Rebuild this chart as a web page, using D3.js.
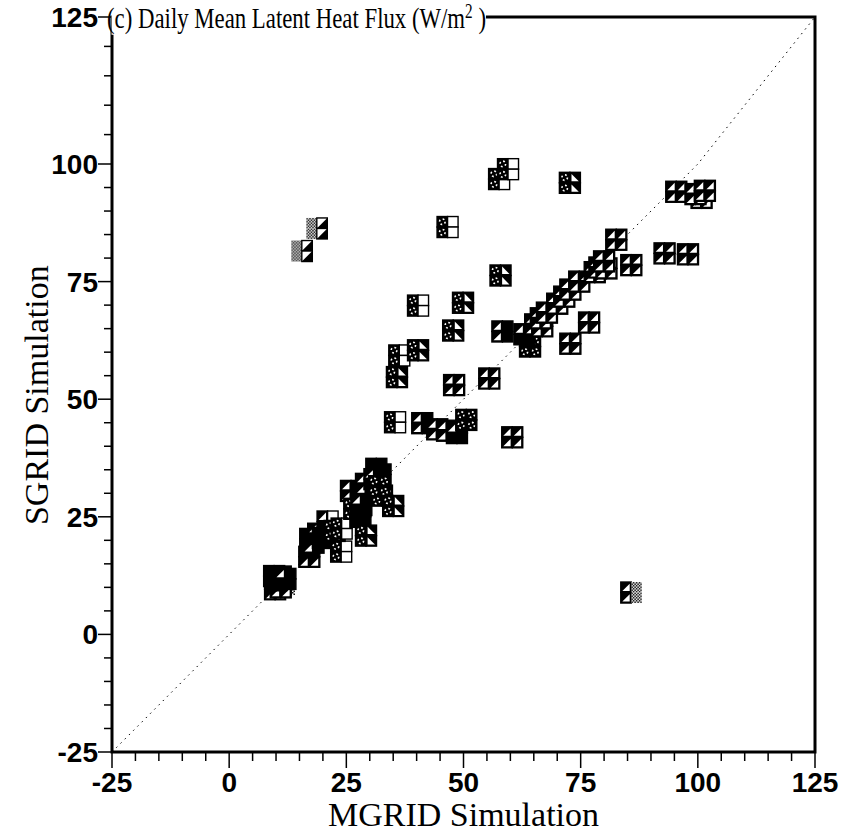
<!DOCTYPE html>
<html>
<head>
<meta charset="utf-8">
<script src="https://cdn.jsdelivr.net/npm/d3@7"></script>
<style>
  body { margin: 0; background: #fff; }
  svg { display: block; }
</style>
</head>
<body>
<svg id="chart" width="842" height="834"></svg>
<script>
(function() {

  // MGRID (x) vs SGRID (y) daily mean latent heat flux, W/m2
  var mgrid = [11.8, 9.8, 11.0, 10.0, 11.0, 9.6, 12.0,
               17.1, 17.3, 18.0, 19.0, 20.0, 21.0, 23.9, 22.5, 24.0,
               26.0, 26.7, 28.0, 28.2, 29.2, 29.2, 31.4, 32.3, 31.0,
               32.6, 32.0, 35.0,
               35.4, 41.2, 44.4, 46.5, 48.6, 50.6, 60.4, 48.0, 55.5,
               35.8, 36.3, 40.3, 40.3, 49.9, 47.8, 57.9, 58.3,
               64.2, 63.0, 65.3, 66.8, 66.5, 67.8, 70.0, 71.5, 72.8, 74.7,
               72.8, 76.8, 78.0, 79.0, 80.5, 80.0, 85.8, 82.6,
               92.9, 97.9, 95.4, 100.8, 99.5, 101.5,
               72.7, 57.6, 59.5, 46.6, 15.5, 18.7, 85.8];

  var sgrid = [10.6, 9.6, 10.0, 11.5, 12.3, 12.4, 11.8,
               16.5, 20.3, 19.5, 21.4, 20.5, 24.0, 17.6, 22.0, 22.5,
               30.5, 26.7, 25.0, 27.5, 21.0, 32.0, 35.2, 34.0, 33.0,
               29.5, 31.5, 27.3,
               45.1, 44.9, 43.6, 43.3, 42.8, 45.6, 41.9, 53.0, 54.4,
               54.7, 59.3, 60.4, 69.9, 70.5, 64.6, 76.3, 64.4,
               61.2, 63.8, 65.9, 65.5, 67.2, 68.4, 70.3, 71.8, 73.3, 75.0,
               61.8, 66.3, 77.0, 78.0, 77.8, 79.3, 78.5, 83.9,
               81.0, 80.8, 94.1, 92.8, 93.6, 94.3,
               96.0, 96.8, 98.9, 86.6, 81.5, 86.3, 8.9];

  // 2x2 glyph per point: top-left, top-right, bottom-left, bottom-right
  var glyphs = ['KSKS', 'KKUU', 'KKUU', 'KKKK', 'KKKK', 'KKKK', 'UKKK',
                'KKUU', 'KKKK', 'KKUK', 'UKKK', 'KKKK', 'UWKK', 'XWXW', 'XXXX', 'XWXW',
                'UKUK', 'XXXX', 'KKKK', 'UKKK', 'XNXN', 'UKUK', 'KKKK', 'KKKK', 'UKKK',
                'XXXX', 'XXXX', 'XNXN',
                'XWXW', 'UKUK', 'UUUU', 'UUUU', 'UKKK', 'XXXX', 'UUUU', 'UUUU', 'UUUU',
                'XNXN', 'XWXW', 'XNXN', 'XWXW', 'XNXN', 'XNXN', 'XNXN', 'UKUK',
                'XXXX', 'UKKK', 'UKUK', 'UUUU', 'UUUU', 'UUUU', 'UUUU', 'UUUU', 'UUUU', 'UUUU',
                'UUUU', 'UUUU', 'UUUU', 'UUUU', 'UUUU', 'UUUU', 'UUUU', 'UUUU',
                'UUUU', 'UUUU', 'UUUU', 'UUUU', 'UUUU', 'UUUU',
                'XNXN', 'XXXW', 'XWXW', 'XWXW', 'SLSL', 'SLSL', 'USUS'];

  var xTicks = [-25, 0, 25, 50, 75, 100, 125];
  var yTicks = [-25, 0, 25, 50, 75, 100, 125];
  var minorStep = 5;

  var left = 112, right = 815, top = 17, bottom = 752;
  var svg = d3.select('#chart');

  var x = d3.scaleLinear().domain([-25, 125]).range([left, right]);
  // the top interval of the printed axis is stretched
  var y = d3.scaleLinear().domain([-25, 100, 125]).range([bottom, 164, top]);

  var defs = svg.append('defs');
  var stip = defs.append('pattern')
    .attr('id', 'stip')
    .attr('patternUnits', 'userSpaceOnUse')
    .attr('width', 3).attr('height', 3);
  stip.append('rect').attr('width', 3).attr('height', 3).attr('fill', '#fff');
  stip.append('rect').attr('width', 1.5).attr('height', 1.5).attr('fill', '#000');
  stip.append('rect').attr('x', 1.5).attr('y', 1.5).attr('width', 1.5).attr('height', 1.5).attr('fill', '#000');

  // minor + major ticks
  var minorX = d3.range(-25, 125.1, minorStep);
  var minorY = d3.range(-25, 125.1, minorStep);

  svg.append('g').selectAll('line')
    .data(minorX)
    .enter().append('line')
    .attr('x1', function(d) { return x(d); })
    .attr('x2', function(d) { return x(d); })
    .attr('y1', bottom)
    .attr('y2', function(d) { return bottom + (xTicks.indexOf(d) >= 0 ? 16 : 9); })
    .attr('stroke', '#000')
    .attr('stroke-width', 1.5);

  svg.append('g').selectAll('line')
    .data(minorY)
    .enter().append('line')
    .attr('y1', function(d) { return y(d); })
    .attr('y2', function(d) { return y(d); })
    .attr('x1', left)
    .attr('x2', function(d) { return left - (yTicks.indexOf(d) >= 0 ? 14 : 8); })
    .attr('stroke', '#000')
    .attr('stroke-width', 1.5);

  svg.append('g').selectAll('text')
    .data(xTicks)
    .enter().append('text')
    .attr('x', function(d) { return x(d); })
    .attr('y', 792)
    .attr('text-anchor', 'middle')
    .style('font-family', '"Liberation Sans", Arial, sans-serif')
    .style('font-weight', 'bold')
    .style('font-size', '28px')
    .text(function(d) { return d; });

  svg.append('g').selectAll('text')
    .data(yTicks)
    .enter().append('text')
    .attr('x', 98)
    .attr('y', function(d) { return y(d) + 10; })
    .attr('text-anchor', 'end')
    .style('font-family', '"Liberation Sans", Arial, sans-serif')
    .style('font-weight', 'bold')
    .style('font-size', '28px')
    .text(function(d) { return d; });

  // 1:1 line
  svg.append('path')
    .attr('d', d3.line()
      .x(function(d) { return x(d); })
      .y(function(d) { return y(d); })([-25, 100, 125]))
    .attr('fill', 'none')
    .attr('stroke', '#000')
    .attr('stroke-width', 1)
    .attr('stroke-dasharray', '1.5 4.5');

  // glyphs
  var cell = 10.5;
  var pts = mgrid.map(function(v, i) {
    return { mx: v, sy: sgrid[i], code: glyphs[i] };
  });

  var g = svg.append('g').selectAll('g')
    .data(pts)
    .enter().append('g')
    .attr('transform', function(d) {
      return 'translate(' + (x(d.mx) - cell) + ',' + (y(d.sy) - cell) + ')';
    });

  g.each(function(d) {
    var gg = d3.select(this);
    for (var i = 0; i < 4; i++) {
      drawCell(gg, d.code[i], (i % 2) * cell, Math.floor(i / 2) * cell, cell);
    }
  });

  function drawCell(sel, c, cx, cy, s) {
    var p = 1.6;
    if (c === 'S') {
      sel.append('rect').attr('x', cx).attr('y', cy).attr('width', s).attr('height', s)
        .attr('fill', 'url(#stip)');
      return;
    }
    var bg = (c === 'W' || c === 'L') ? '#fff' : '#000';
    sel.append('rect').attr('x', cx).attr('y', cy).attr('width', s).attr('height', s)
      .attr('fill', bg).attr('stroke', '#000').attr('stroke-width', 1.4);
    if (c === 'X') {
      sel.append('circle').attr('cx', cx + s / 2).attr('cy', cy + s / 2).attr('r', 2.8)
        .attr('fill', 'none').attr('stroke', '#fff').attr('stroke-width', 1.6)
        .attr('stroke-dasharray', '1.8 2.6');
    } else if (c === 'U') {
      sel.append('path')
        .attr('d', 'M' + (cx + p) + ',' + (cy + s - p) + 'L' + (cx + s - p) + ',' + (cy + s - p) +
                   'L' + (cx + s - p) + ',' + (cy + p) + 'Z')
        .attr('fill', '#fff');
    } else if (c === 'N') {
      sel.append('path')
        .attr('d', 'M' + (cx + p) + ',' + (cy + p) + 'L' + (cx + p) + ',' + (cy + s - p) +
                   'L' + (cx + s - p) + ',' + (cy + s - p) + 'Z')
        .attr('fill', '#fff');
    } else if (c === 'L') {
      sel.append('path')
        .attr('d', 'M' + (cx + s) + ',' + cy + 'L' + (cx + s) + ',' + (cy + s) +
                   'L' + cx + ',' + (cy + s) + 'Z')
        .attr('fill', '#000');
    }
  }

  // frame
  svg.append('rect')
    .attr('x', left).attr('y', top)
    .attr('width', right - left).attr('height', bottom - top)
    .attr('fill', 'none')
    .attr('stroke', '#000')
    .attr('stroke-width', 3);

  // title sits on a white box over the top frame line
  var tg = svg.append('g').attr('transform', 'translate(107,28) scale(0.76,1)');
  var title = tg.append('text')
    .style('font-family', '"Liberation Serif", "Times New Roman", serif')
    .style('font-size', '30px');
  title.append('tspan').text('(c) Daily Mean Latent Heat Flux (W/m');
  title.append('tspan').attr('dy', -10).style('font-size', '20px').text('2');
  title.append('tspan').attr('dy', 10).text(' )');
  var bb = title.node().getBBox();
  tg.insert('rect', 'text')
    .attr('x', bb.x + 6).attr('y', bb.y)
    .attr('width', bb.width - 6).attr('height', bb.height)
    .attr('fill', '#fff');

  svg.append('text')
    .attr('x', x(50))
    .attr('y', 826)
    .attr('text-anchor', 'middle')
    .style('font-family', '"Liberation Serif", "Times New Roman", serif')
    .style('font-size', '34px')
    .text('MGRID Simulation');

  svg.append('text')
    .attr('transform', 'translate(48,' + (y(50) - 4) + ') rotate(-90)')
    .attr('text-anchor', 'middle')
    .style('font-family', '"Liberation Serif", "Times New Roman", serif')
    .style('font-size', '34px')
    .text('SGRID Simulation');
})();
</script>
</body>
</html>
